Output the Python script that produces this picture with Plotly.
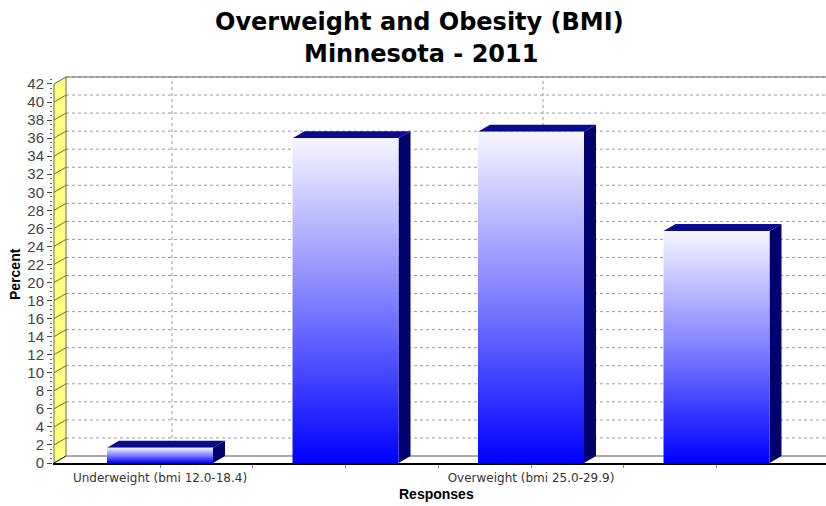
import plotly.graph_objects as go

# ---------------- data ----------------
categories = ["Underweight (bmi 12.0-18.4)", "Recommended Range (bmi 18.5-24.9)",
              "Overweight (bmi 25.0-29.9)", "Obese (bmi 30.0-99.8)"]
percent = [1.7, 36.0, 36.7, 25.7]
y_ticks = list(range(0, 43, 2))
labelled = [0, 2]          # categories whose tick label is printed
title_lines = ["Overweight and Obesity (BMI)", "Minnesota - 2011"]

# ---------------- geometry (pixel -> data conversions) ----------------
W, H = 826, 506
PX_CAT = 185.5                 # pixels per category
PX_UNIT = 9.024                # pixels per percent
L_PX, B_PX = 53, 43            # plot-area margins
CAT0_PX = 160                  # pixel centre of first category
PLOT_H = 387
T_PX = H - B_PX - PLOT_H

X_MIN = (L_PX - CAT0_PX) / PX_CAT
X_MAX = (W - CAT0_PX) / PX_CAT
Y_MAX = PLOT_H / PX_UNIT
XW = (L_PX + 1 - CAT0_PX) / PX_CAT     # wall front edge
DX = 12 / PX_CAT                        # 3-D depth offset
DY = 7 / PX_UNIT
HALF = 53 / PX_CAT                      # half bar width
TOP = y_ticks[-1]

fig = go.Figure()

def line(xs, ys, color, width=1, dash="solid"):
    fig.add_trace(go.Scatter(x=xs, y=ys, mode="lines", hoverinfo="skip",
                             line=dict(color=color, width=width, dash=dash),
                             showlegend=False))

def poly(xs, ys, fillcolor=None, linecolor="rgba(0,0,0,0)", gradient=None):
    kw = dict(x=xs + [xs[0]], y=ys + [ys[0]], mode="lines", fill="toself",
              hoverinfo="skip", showlegend=False, line=dict(color=linecolor, width=1))
    if gradient:
        kw["fillgradient"] = gradient
    else:
        kw["fillcolor"] = fillcolor
    fig.add_trace(go.Scatter(**kw))

GRID_DASH = "3px,3px"
# back-wall gridlines (horizontal)
gx, gy = [], []
for v in y_ticks[1:]:
    gx += [XW + DX, X_MAX, None]
    gy += [v + DY, v + DY, None]
line(gx, gy, "#9a9a9a", 1, GRID_DASH)
# vertical gridlines at labelled categories
vx, vy = [], []
for i in labelled:
    vx += [i + DX, i + DX, None]
    vy += [DY, TOP + DY, None]
line(vx, vy, "#9a9a9a", 1, GRID_DASH)
# floor back edge and top border
line([XW + DX, X_MAX], [DY, DY], "#555555", 1)
line([XW + DX, X_MAX], [TOP + DY, TOP + DY], "#666666", 1)

# yellow left wall
poly([XW, XW + DX, XW + DX, XW], [0, DY, TOP + DY, TOP], fillcolor="#FFFF80", linecolor="#6b6b4a")
sx, sy = [], []
for v in y_ticks[1:-1]:
    sx += [XW, XW + DX, None]
    sy += [v, v + DY, None]
line(sx, sy, "#6b6b4a", 1)
# floor front left slant
line([XW, XW + DX], [0, DY], "#333333", 1)

# bars
grad = dict(type="vertical", colorscale=[[0, "#0000FF"], [0.5, "#8080FF"], [1, "#F6F6FF"]])
for i, v in enumerate(percent):
    x1, x2 = i - HALF, i + HALF
    # side face
    poly([x2, x2 + DX, x2 + DX, x2], [0, DY, v + DY, v], fillcolor="#00006E")
    # top face
    poly([x1, x2, x2 + DX, x1 + DX], [v, v, v + DY, v + DY], fillcolor="#0A0A8C")
    # front face with gradient
    poly([x1, x2, x2, x1], [0, 0, v, v], gradient=grad)

tickvals = [0, 0.5, 1, 1.5, 2, 2.5, 3]
ticktext = [categories[int(t)] if (t == int(t) and int(t) in labelled) else "" for t in tickvals]

def px_x(p):
    return (p - L_PX) / (W - L_PX)

def px_y(p):
    return (H - B_PX - p) / PLOT_H

fig.update_layout(
    width=W, height=H,
    margin=dict(l=L_PX, r=0, t=T_PX, b=B_PX),
    paper_bgcolor="white", plot_bgcolor="white",
    showlegend=False,
    xaxis=dict(range=[X_MIN, X_MAX], showgrid=False, zeroline=False,
               showline=True, linecolor="black", linewidth=2,
               tickmode="array", tickvals=tickvals, ticktext=ticktext,
               ticks="outside", ticklen=3, tickcolor="#888888",
               tickfont=dict(family="DejaVu Sans", size=12, color="#333333")),
    yaxis=dict(range=[0, Y_MAX], showgrid=False, zeroline=False, showline=False,
               tickmode="array", tickvals=y_ticks,
               ticks="outside", ticklen=5, tickcolor="#444444",
               tickfont=dict(family="Liberation Sans", size=15, color="#444444"),
               minor=dict(ticks="outside", ticklen=2, dtick=0.5, tickcolor="#666666")),
    annotations=[
        dict(text="<b>%s</b>" % title_lines[0], xref="paper", yref="paper",
             x=px_x(419), y=px_y(22),
             xanchor="center", yanchor="middle", showarrow=False,
             font=dict(family="DejaVu Sans", size=24, color="black")),
        dict(text="<b>%s</b>" % title_lines[1], xref="paper", yref="paper",
             x=px_x(421), y=px_y(54),
             xanchor="center", yanchor="middle", showarrow=False,
             font=dict(family="DejaVu Sans", size=24, color="black")),
        dict(text="<b>Percent</b>", xref="paper", yref="paper",
             x=px_x(15), y=px_y(274),
             xanchor="center", yanchor="middle", showarrow=False, textangle=-90,
             font=dict(family="Liberation Sans", size=14, color="black")),
        dict(text="<b>Responses</b>", xref="paper", yref="paper",
             x=px_x(436), y=px_y(494),
             xanchor="center", yanchor="middle", showarrow=False,
             font=dict(family="Liberation Sans", size=14, color="black")),
    ],
)

fig.write_html("out.html")
